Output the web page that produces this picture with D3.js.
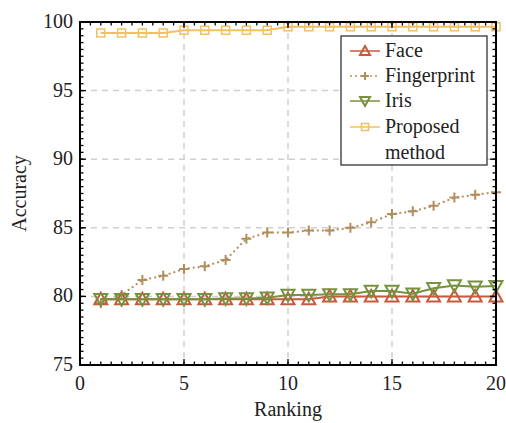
<!DOCTYPE html>
<html><head><meta charset="utf-8">
<script src="https://cdn.jsdelivr.net/npm/d3@7"></script>
<style>body{margin:0;background:#fff;} svg{display:block;} text{font-family:'Liberation Serif','Times New Roman',Times,'DejaVu Serif',serif;}</style>
</head><body>
<svg id="c" width="506" height="423"></svg>
<script>
const ranking = d3.range(1, 21);
const face = [79.8,79.8,79.8,79.8,79.8,79.8,79.8,79.8,79.8,79.8,79.8,80.0,80.0,80.0,80.0,80.0,80.0,80.0,80.0,80.0];
const fingerprint = [79.5,80.1,81.2,81.5,82.0,82.2,82.65,84.2,84.65,84.65,84.8,84.8,85.0,85.4,86.0,86.2,86.6,87.2,87.4,87.6];
const iris = [79.8,79.8,79.8,79.8,79.8,79.8,79.85,79.85,79.9,80.1,80.1,80.15,80.15,80.4,80.4,80.2,80.6,80.8,80.7,80.75];
const proposed = [99.2,99.2,99.2,99.2,99.4,99.4,99.4,99.4,99.4,99.65,99.65,99.65,99.65,99.65,99.65,99.65,99.65,99.65,99.65,99.65];
const xTicks = [0,5,10,15,20];
const yTicks = [75,80,85,90,95,100];
const seriesNames = ["Face","Fingerprint","Iris","Proposed method"];

const FONT = "'Liberation Serif','Times New Roman',Times,serif";
const FS = 20;
const colors = {Face:"#c9593c", Fingerprint:"#b38e5d", Iris:"#77923e", Proposed:"#f2c062"};
const svg = d3.select("#c").attr("font-family", FONT);
const L=80, R=496, T=22, B=365;
const x = d3.scaleLinear().domain([0,20]).range([L,R]);
const y = d3.scaleLinear().domain([75,100]).range([B,T]);

// grid
const g = svg.append("g");
g.selectAll(".gx").data(xTicks.slice(1,-1)).join("line")
 .attr("x1",d=>x(d)).attr("x2",d=>x(d)).attr("y1",T).attr("y2",B)
 .attr("stroke","#d0d0d0").attr("stroke-width",1.5).attr("stroke-dasharray","6,5");
g.selectAll(".gy").data(yTicks.slice(1,-1)).join("line")
 .attr("y1",d=>y(d)).attr("y2",d=>y(d)).attr("x1",L).attr("x2",R)
 .attr("stroke","#d0d0d0").attr("stroke-width",1.5).attr("stroke-dasharray","6,5");

function series(vals, color, dash, marker){
  const pts = vals.map((v,i)=>[ranking[i], v]);
  const line = d3.line().x(d=>x(d[0])).y(d=>y(d[1]));
  svg.append("path").datum(pts).attr("d",line).attr("fill","none")
    .attr("stroke",color).attr("stroke-width",2).attr("stroke-dasharray",dash||null);
  const mg = svg.append("g");
  pts.forEach(p=>marker(mg, x(p[0]), y(p[1]), color));
}
function triUp(gp,cx,cy,c,s=6.5){
  gp.append("path").attr("d",`M${cx},${cy-s}L${cx+s},${cy+s*0.8}L${cx-s},${cy+s*0.8}Z`)
   .attr("fill","none").attr("stroke",c).attr("stroke-width",2);
}
function triDown(gp,cx,cy,c,s=6.5){
  gp.append("path").attr("d",`M${cx},${cy+s}L${cx+s},${cy-s*0.8}L${cx-s},${cy-s*0.8}Z`)
   .attr("fill","none").attr("stroke",c).attr("stroke-width",2);
}
function plus(gp,cx,cy,c,s=5){
  gp.append("path").attr("d",`M${cx-s},${cy}L${cx+s},${cy}M${cx},${cy-s}L${cx},${cy+s}`)
   .attr("stroke",c).attr("stroke-width",2);
}
function square(gp,cx,cy,c,s=4){
  gp.append("rect").attr("x",cx-s).attr("y",cy-s).attr("width",2*s).attr("height",2*s)
   .attr("fill","none").attr("stroke",c).attr("stroke-width",1.5);
}

series(proposed, colors.Proposed, null, square);
series(fingerprint, colors.Fingerprint, "2,3", plus);
series(face, colors.Face, null, triUp);
series(iris, colors.Iris, null, triDown);

// frame + ticks
const ax = svg.append("g");
const xMinor = d3.range(0,20.01,0.5), yMinor = d3.range(75,100.01,0.5);
function ticks(vals, isMajor, axis){
  const len = isMajor?6:3.5;
  vals.forEach(v=>{
    if(axis==="x"){
      ax.append("line").attr("x1",x(v)).attr("x2",x(v)).attr("y1",B).attr("y2",B-len).attr("stroke","#000").attr("stroke-width",1.3);
      ax.append("line").attr("x1",x(v)).attr("x2",x(v)).attr("y1",T).attr("y2",T+len).attr("stroke","#000").attr("stroke-width",1.3);
    } else {
      ax.append("line").attr("y1",y(v)).attr("y2",y(v)).attr("x1",L).attr("x2",L+len).attr("stroke","#000").attr("stroke-width",1.3);
      ax.append("line").attr("y1",y(v)).attr("y2",y(v)).attr("x1",R).attr("x2",R-len).attr("stroke","#000").attr("stroke-width",1.3);
    }
  });
}
ticks(xMinor,false,"x"); ticks(xTicks,true,"x");
ticks(yMinor,false,"y"); ticks(yTicks,true,"y");
ax.append("rect").attr("x",L).attr("y",T).attr("width",R-L).attr("height",B-T)
  .attr("fill","none").attr("stroke","#000").attr("stroke-width",2);

// tick labels
svg.append("g").selectAll("text").data(xTicks).join("text")
  .attr("x",d=>x(d)).attr("y",B+25).attr("text-anchor","middle")
  .attr("font-size",FS).attr("fill","#222").text(d=>d);
svg.append("g").selectAll("text").data(yTicks).join("text")
  .attr("x",L-7).attr("y",d=>y(d)+6).attr("text-anchor","end")
  .attr("font-size",FS).attr("fill","#222").text(d=>d);
svg.append("text").attr("x",(L+R)/2).attr("y",416).attr("text-anchor","middle")
  .attr("font-size",FS).attr("fill","#222").text("Ranking");
svg.append("text").attr("transform",`translate(26,${(T+B)/2}) rotate(-90)`)
  .attr("text-anchor","middle").attr("font-size",FS).attr("fill","#222").text("Accuracy");

// legend
const lg = svg.append("g");
lg.append("rect").attr("x",341).attr("y",36).attr("width",146).attr("height",129)
  .attr("fill","#fff").attr("stroke","#222").attr("stroke-width",1.2);
const items = [
  {name:seriesNames[0], c:colors.Face, dash:null, m:triUp, yy:51},
  {name:seriesNames[1], c:colors.Fingerprint, dash:"2,3", m:plus, yy:76},
  {name:seriesNames[2], c:colors.Iris, dash:null, m:triDown, yy:101},
  {name:seriesNames[3], c:colors.Proposed, dash:null, m:square, yy:127}
];
items.forEach(it=>{
  lg.append("line").attr("x1",350).attr("x2",380).attr("y1",it.yy).attr("y2",it.yy)
    .attr("stroke",it.c).attr("stroke-width",1.5).attr("stroke-dasharray",it.dash);
  if(it.m===triUp) triUp(lg,365,it.yy,it.c,5);
  else if(it.m===triDown) triDown(lg,365,it.yy,it.c,5);
  else if(it.m===plus) plus(lg,365,it.yy,it.c,4);
  else square(lg,365,it.yy,it.c,3.5);
  const words = it.name==="Proposed method" ? ["Proposed","method"] : [it.name];
  words.forEach((w,i)=>lg.append("text").attr("x",385).attr("y",it.yy+6+i*26)
    .attr("font-size",FS).attr("fill","#222").text(w));
});
</script>
</body></html>
